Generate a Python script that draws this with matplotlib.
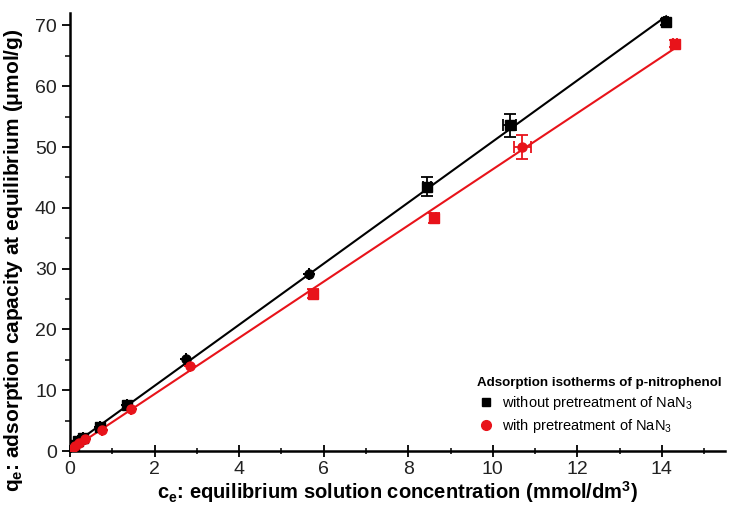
import numpy as np
import matplotlib
matplotlib.use('Agg')
import matplotlib.pyplot as plt
from matplotlib.ticker import MultipleLocator
from matplotlib.lines import Line2D

plt.rcParams['font.family'] = ['Liberation Sans', 'DejaVu Sans']
plt.rcParams['mathtext.default'] = 'regular'

# without pretreatment of NaN3
ce_a = [0.05, 0.1, 0.2, 0.3, 0.7, 1.35, 2.75, 5.65, 8.45, 10.4, 14.1]
qe_a = [0.5, 1.0, 1.6, 2.2, 3.9, 7.5, 15.2, 29.2, 43.5, 53.6, 70.6]
xerr_a = [0, 0, 0, 0, 0, 0, 0, 0, 0.1, 0.15, 0.05]
yerr_a = [0, 0, 0, 0, 0, 0, 0, 0, 1.5, 1.9, 0.5]
mk_a = ['s', 's', 's', 's', 's', 's', 'o', 'o', 's', 's', 's']

# with pretreatment of NaN3
ce_b = [0.05, 0.12, 0.22, 0.35, 0.75, 1.45, 2.85, 5.75, 8.6, 10.7, 14.3]
qe_b = [0.3, 0.8, 1.3, 2.0, 3.5, 7.0, 14.0, 25.9, 38.3, 50.0, 67.0]
xerr_b = [0, 0, 0, 0, 0, 0, 0, 0, 0.05, 0.2, 0.05]
yerr_b = [0, 0, 0, 0, 0, 0, 0, 0.8, 0.8, 1.9, 0.6]
mk_b = ['o', 'o', 'o', 'o', 'o', 'o', 'o', 's', 's', 'o', 's']

red = '#e8131a'

fig = plt.figure(figsize=(7.29, 5.08), dpi=100)
ax = fig.add_axes([0.096, 0.112, 0.899, 0.862])

for ce, qe, xe, ye, mk, col in [(ce_a, qe_a, xerr_a, yerr_a, mk_a, 'black'),
                                (ce_b, qe_b, xerr_b, yerr_b, mk_b, red)]:
    k, b = np.polyfit(ce, qe, 1)
    xs = np.array([0, max(ce)])
    ax.plot(xs, k * xs + b, color=col, lw=1.5, zorder=2)
    ax.errorbar(ce, qe, xerr=xe, yerr=ye, fmt='none', ecolor=col,
                elinewidth=1.3, capsize=4, capthick=1.3, zorder=3)
    for x, y, m in zip(ce, qe, mk):
        ax.plot(x, y, marker=m, color=col, ms=6.5, ls='none', zorder=4)

ax.set_xlim(0, 15.5)
ax.set_ylim(0, 72)
ax.xaxis.set_major_locator(MultipleLocator(2))
ax.xaxis.set_minor_locator(MultipleLocator(1))
ax.yaxis.set_major_locator(MultipleLocator(10))
ax.yaxis.set_minor_locator(MultipleLocator(5))

for s in ['top', 'right']:
    ax.spines[s].set_visible(False)
for s in ['left', 'bottom']:
    ax.spines[s].set_linewidth(1.8)

ax.tick_params(axis='x', which='major', direction='inout', length=8, width=1.3, labelsize=14, pad=3)
ax.tick_params(axis='x', which='minor', direction='inout', length=5, width=1.1)
ax.tick_params(axis='y', which='major', direction='out', length=6, width=1.3, labelsize=14)
ax.tick_params(axis='y', which='minor', direction='out', length=3.5, width=1.1)
for lab in ax.get_xticklabels() + ax.get_yticklabels():
    lab.set_color('#222222')

ax.set_xlabel('c$_e$: equilibrium solution concentration (mmol/dm$^3$)',
              fontsize=14.5, fontweight='bold', labelpad=1)
ax.set_ylabel('q$_e$: adsorption capacity at equilibrium (\u03bcmol/g)',
              fontsize=15, fontweight='bold')
ax.yaxis.set_label_coords(-0.068, 0.435)

handles = [Line2D([], [], marker='s', color='black', ls='none', ms=6),
           Line2D([], [], marker='o', color=red, ls='none', ms=7)]
leg = fig.legend(handles, ['without pretreatment of NaN$_3$', 'with pretreatment of NaN$_3$'],
                 title='Adsorption isotherms of p-nitrophenol', loc='upper left',
                 bbox_to_anchor=(0.655, 0.258), frameon=False, fontsize=10.5,
                 borderpad=0, borderaxespad=0,
                 handletextpad=0.5, handlelength=1.2, labelspacing=0.35)
leg.get_title().set_fontweight('bold')
leg.get_title().set_fontsize(9.6)
leg._legend_box.align = 'left'

fig.savefig('out.png', dpi=100)
